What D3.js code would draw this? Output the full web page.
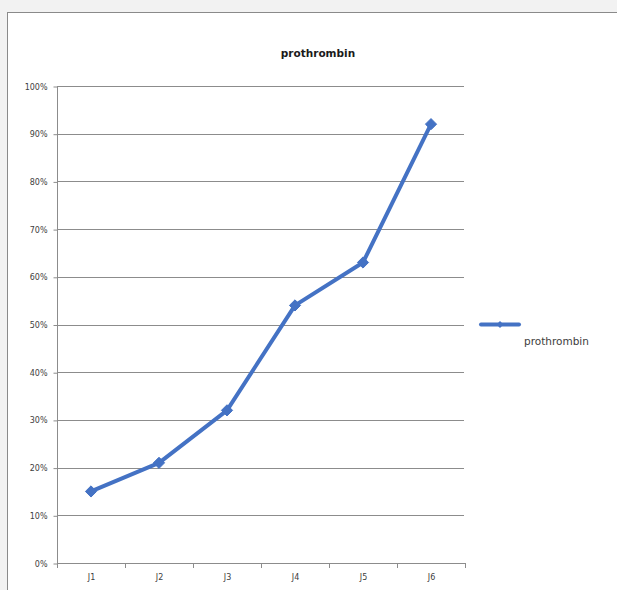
<!DOCTYPE html>
<html>
<head>
<meta charset="utf-8">
<script src="https://cdn.jsdelivr.net/npm/d3@7"></script>
<style>
  html, body { margin: 0; padding: 0; background: #f2f2f2; }
  svg { display: block; }
</style>
</head>
<body>
<svg id="chart" width="617" height="590"></svg>
<script>
// Prothrombin percentage by sample
const categories = ["J1", "J2", "J3", "J4", "J5", "J6"];
const seriesName = "prothrombin";
const values = [0.15, 0.21, 0.32, 0.54, 0.63, 0.92];
const yTicks = [0, 0.1, 0.2, 0.3, 0.4, 0.5, 0.6, 0.7, 0.8, 0.9, 1.0];

const svg = d3.select("#chart");
const font = "'DejaVu Sans', 'Open Sans', sans-serif";
const lineColor = "#4472c4";
const gridColor = "#8c8c8c";
const textColor = "#404040";

// chart frame
svg.append("rect")
  .attr("x", 7.5).attr("y", 12.5)
  .attr("width", 640).attr("height", 620)
  .attr("fill", "#ffffff")
  .attr("stroke", "#8a8a8a").attr("stroke-width", 1);

const plot = { left: 57, right: 465, top: 86, bottom: 563 };

const x = d3.scaleBand().domain(categories).range([plot.left, plot.right]);
const y = d3.scaleLinear().domain([0, 1]).range([plot.bottom, plot.top]);

// horizontal gridlines
svg.append("g")
  .selectAll("line")
  .data(yTicks.filter(d => d > 0))
  .join("line")
  .attr("x1", plot.left).attr("x2", plot.right - 1)
  .attr("y1", d => Math.round(y(d)) + 0.5).attr("y2", d => Math.round(y(d)) + 0.5)
  .attr("stroke", gridColor).attr("stroke-width", 1);

// y axis
const yAxis = svg.append("g")
  .attr("transform", `translate(${plot.left + 0.5},0.5)`)
  .call(d3.axisLeft(y).tickValues(yTicks).tickFormat(d3.format(".0%")).tickSize(4).tickPadding(6));
yAxis.select(".domain").attr("stroke", gridColor).attr("d", `M0,${plot.top}V${plot.bottom}`);
yAxis.selectAll(".tick line").attr("stroke", gridColor);
yAxis.selectAll(".tick text")
  .attr("fill", textColor).style("font-family", font).style("font-size", "8px");

// x axis
const xAxis = svg.append("g")
  .attr("transform", `translate(0.5,${plot.bottom + 0.5})`)
  .call(d3.axisBottom(x).tickSize(0).tickPadding(11));
xAxis.select(".domain").attr("stroke", gridColor).attr("d", `M${plot.left},0H${plot.right}`);
xAxis.selectAll(".tick text")
  .attr("fill", textColor).style("font-family", font).style("font-size", "8px");
// category boundary ticks
svg.append("g")
  .selectAll("line")
  .data(categories.map(c => x(c)).concat([plot.right]))
  .join("line")
  .attr("x1", d => Math.round(d) + 0.5).attr("x2", d => Math.round(d) + 0.5)
  .attr("y1", plot.bottom).attr("y2", plot.bottom + 5)
  .attr("stroke", gridColor);

const cx = c => x(c) + x.bandwidth() / 2;

// series line
svg.append("path")
  .datum(values)
  .attr("fill", "none")
  .attr("stroke", lineColor)
  .attr("stroke-width", 4)
  .attr("stroke-linejoin", "round")
  .attr("stroke-linecap", "round")
  .attr("d", d3.line().x((d, i) => cx(categories[i])).y(d => y(d)));

// diamond markers
const diamond = d3.symbol().type(d3.symbolDiamond2).size(80);
svg.append("g")
  .selectAll("path")
  .data(values)
  .join("path")
  .attr("transform", (d, i) => `translate(${cx(categories[i])},${y(d)})`)
  .attr("d", diamond)
  .attr("fill", lineColor)
  .attr("stroke", lineColor).attr("stroke-width", 1);

// title
svg.append("text")
  .attr("x", 318).attr("y", 57)
  .attr("text-anchor", "middle")
  .attr("fill", "#1a1a1a")
  .style("font-family", font).style("font-size", "10.5px").style("font-weight", "bold")
  .text(seriesName);

// legend
const lg = svg.append("g");
lg.append("line")
  .attr("x1", 481).attr("x2", 519)
  .attr("y1", 324.5).attr("y2", 324.5)
  .attr("stroke", lineColor).attr("stroke-width", 4).attr("stroke-linecap", "round");
lg.append("path")
  .attr("transform", "translate(500,324.5)")
  .attr("d", d3.symbol().type(d3.symbolDiamond2).size(30))
  .attr("fill", lineColor);
lg.append("text")
  .attr("x", 524).attr("y", 345)
  .attr("fill", textColor)
  .style("font-family", font).style("font-size", "10.5px")
  .text(seriesName);
</script>
</body>
</html>
